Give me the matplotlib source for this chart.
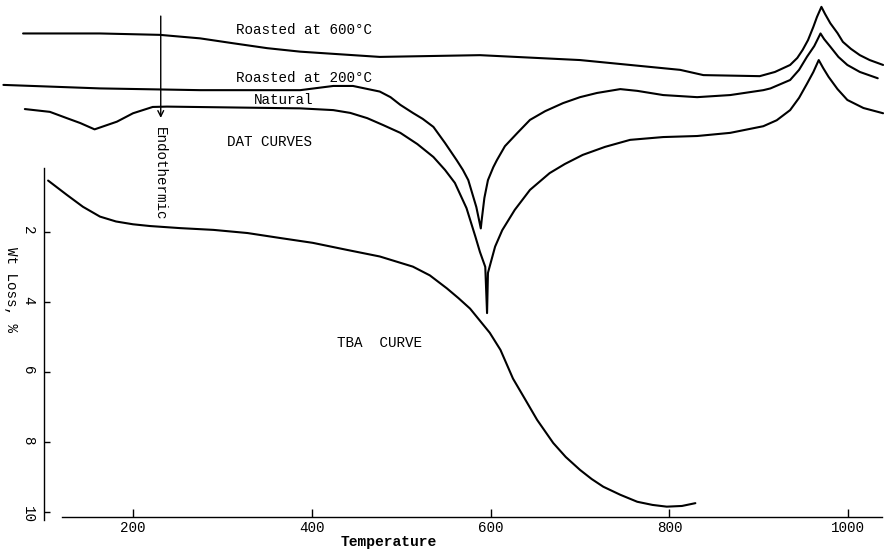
import matplotlib
matplotlib.use('Agg')
import matplotlib.pyplot as plt

plt.rcParams['font.family'] = ['Liberation Mono', 'DejaVu Sans Mono']
plt.rcParams['font.size'] = 10.3

# TBA curve: temperature (C) vs weight loss (%)
tba_temp = [105, 126, 144, 163, 181, 200, 219, 253, 290, 328, 364, 401, 439, 476,
            513, 532, 551, 564, 577, 599, 611, 625, 639, 652, 670, 684, 700, 713,
            726, 745, 764, 781, 797, 814, 829]
tba_loss = [0.54, 0.95, 1.29, 1.57, 1.71, 1.79, 1.84, 1.90, 1.95, 2.04, 2.18, 2.32,
            2.52, 2.71, 3.00, 3.25, 3.62, 3.90, 4.20, 4.89, 5.38, 6.20, 6.81, 7.38,
            8.04, 8.44, 8.81, 9.07, 9.29, 9.52, 9.72, 9.81, 9.86, 9.84, 9.76]

# DAT curves: temperature vs deflection (arbitrary units, up = exothermic)
r600_temp = [77, 163, 230, 275, 312, 350, 387, 476, 588, 700, 812, 838, 901, 918,
             935, 943, 949, 955, 961, 965, 970, 974, 980, 988, 994, 1003, 1013,
             1024, 1039]
r600_dat = [14.73, 14.73, 14.69, 14.59, 14.45, 14.31, 14.21, 14.06, 14.11, 13.97,
            13.69, 13.54, 13.51, 13.63, 13.83, 14.03, 14.26, 14.54, 14.92, 15.20,
            15.49, 15.29, 15.02, 14.74, 14.49, 14.29, 14.11, 13.97, 13.83]

r200_temp = [55, 163, 275, 387, 424, 446, 476, 488, 499, 513, 524, 536, 549, 562,
             569, 575, 584, 589, 590, 593, 597, 603, 607, 616, 630, 644, 661, 681,
             700, 719, 745, 764, 793, 831, 868, 905, 913, 935, 945, 954, 962, 969,
             973, 980, 989, 999, 1013, 1033]
r200_dat = [13.26, 13.16, 13.11, 13.11, 13.23, 13.23, 13.07, 12.91, 12.69, 12.46,
            12.29, 12.06, 11.60, 11.11, 10.83, 10.54, 9.77, 9.16, 9.40, 10.03,
            10.54, 10.91, 11.11, 11.51, 11.89, 12.26, 12.51, 12.74, 12.91, 13.03,
            13.14, 13.09, 12.97, 12.91, 12.97, 13.11, 13.16, 13.40, 13.69, 14.07,
            14.37, 14.73, 14.57, 14.35, 14.06, 13.83, 13.63, 13.45]

nat_temp = [79, 107, 126, 141, 157, 182, 200, 222, 238, 387, 424, 443, 462, 480,
            499, 518, 536, 549, 560, 573, 583, 588, 594, 596, 597, 605, 613, 627,
            644, 666, 683, 703, 728, 756, 793, 831, 868, 905, 920, 935, 945, 954,
            961, 967, 972, 978, 988, 999, 1017, 1039]
nat_dat = [12.57, 12.49, 12.31, 12.17, 11.99, 12.21, 12.45, 12.63, 12.64, 12.59,
           12.54, 12.46, 12.31, 12.11, 11.89, 11.57, 11.20, 10.83, 10.46, 9.74,
           8.92, 8.49, 8.06, 6.74, 7.89, 8.64, 9.11, 9.69, 10.26, 10.74, 11.00,
           11.26, 11.49, 11.69, 11.77, 11.80, 11.89, 12.08, 12.25, 12.54, 12.89,
           13.30, 13.63, 13.97, 13.74, 13.49, 13.14, 12.83, 12.60, 12.45]

x_ticks = [200, 400, 600, 800, 1000]
y_ticks = [2, 4, 6, 8, 10]

fig = plt.figure(figsize=(8.84, 5.49), dpi=100)
ax = fig.add_axes([0, 0, 1, 1])
ax.set_xlim(51.2, 1040.0)
ax.set_ylim(11.07, -4.62)

ax2 = ax.twinx()
ax2.set_ylim(0, 15.686)
for sp in ax2.spines.values():
    sp.set_visible(False)
ax2.set_yticks([])

style = dict(color='k', lw=1.5, solid_joinstyle='round', solid_capstyle='round')
ax.plot(tba_temp, tba_loss, **style)
ax2.plot(r600_temp, r600_dat, **style)
ax2.plot(r200_temp, r200_dat, **style)
ax2.plot(nat_temp, nat_dat, **style)

# axes drawn like the original hand plot
ax.spines['top'].set_visible(False)
ax.spines['right'].set_visible(False)
ax.spines['left'].set_position(('data', 100))
ax.spines['left'].set_bounds(0.18, 10.24)
ax.spines['bottom'].set_position(('data', 10.15))
ax.spines['bottom'].set_bounds(120, 1038)
for s in ['left', 'bottom']:
    ax.spines[s].set_linewidth(1.0)

ax.set_xticks(x_ticks)
ax.set_yticks(y_ticks)
ax.tick_params(axis='x', direction='in', length=6, width=1, pad=3, labelsize=10.3)
ax.tick_params(axis='y', direction='in', length=4, width=1, pad=6, labelsize=10.3,
               labelrotation=-90)

ax.set_xlabel('Temperature', fontweight='bold', fontsize=10.5)
ax.xaxis.set_label_coords(0.44, 0.026)
ax.set_ylabel('Wt Loss, %', rotation=-90, va='center', fontsize=10.3)
ax.yaxis.set_label_coords(0.012, 0.472)

ax.text(391, -3.76, 'Roasted at 600°C', ha='center', va='center')
ax.text(391, -2.39, 'Roasted at 200°C', ha='center', va='center')
ax.text(368, -1.76, 'Natural', ha='center', va='center')
ax.text(353, -0.56, 'DAT CURVES', ha='center', va='center')
ax.text(476, 5.18, 'TBA  CURVE', ha='center', va='center')
ax.text(230, 0.35, 'Endothermic', rotation=-90, ha='center', va='center')
ax.annotate('', xy=(231, -1.25), xytext=(231, -4.16),
            arrowprops=dict(arrowstyle='->', lw=1.0, color='k',
                            shrinkA=0, shrinkB=0))

fig.savefig('out.png', dpi=100)
